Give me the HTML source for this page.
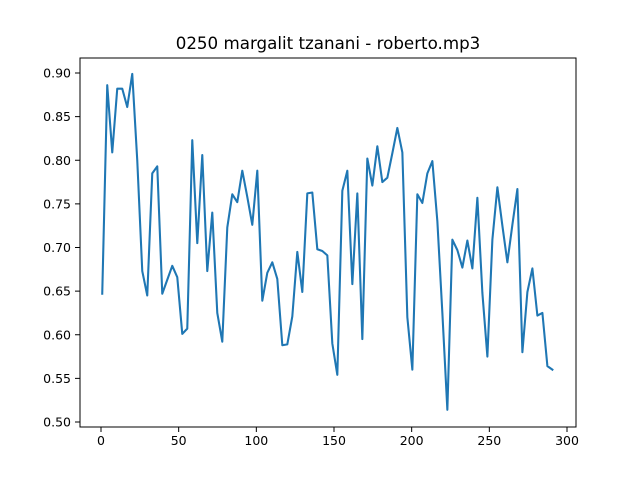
<!DOCTYPE html>
<html><head><meta charset="utf-8"><style>
body{margin:0;background:#fff;}
svg{display:block;font-family:"DejaVu Sans","Liberation Sans",sans-serif;}
</style></head><body>
<svg id="chart" width="640" height="480">
<rect x="0" y="0" width="640" height="480" fill="#fff"/>
<text x="328" y="49" text-anchor="middle" font-size="16.7" fill="#000">0250 margalit tzanani - roberto.mp3</text>
<g id="ticks"></g>
<path id="series" fill="none" stroke="#1f77b4" stroke-width="2.08" stroke-linejoin="round" stroke-linecap="square"/>
<rect x="80" y="58" width="496" height="369" fill="none" stroke="#000" stroke-width="1"/>
</svg>
<script>
const values = [0.647,0.886,0.809,0.882,0.882,0.861,0.899,0.80,0.673,0.645,0.785,0.793,0.647,0.663,0.679,0.666,0.601,0.607,0.823,0.705,0.806,0.673,0.740,0.625,0.592,0.723,0.761,0.752,0.788,0.758,0.726,0.788,
0.639,0.671,0.683,0.664,0.588,0.589,0.621,0.695,0.649,0.762,0.763,0.698,0.696,0.691,0.590,0.554,0.765,0.788,0.658,0.762,0.595,0.802,0.771,0.816,0.775,0.780,0.808,0.837,0.809,0.620,0.560,0.761,
0.751,0.785,0.799,0.730,0.625,0.514,0.709,0.697,0.677,0.708,0.676,0.757,0.648,0.575,0.709,0.769,0.725,0.683,0.726,0.767,0.580,0.649,0.676,0.622,0.625,0.564,0.560];
const xTicks = [0,50,100,150,200,250,300];
const yTicks = [0.50,0.55,0.60,0.65,0.70,0.75,0.80,0.85,0.90];
const xStart = 0.8, xEnd = 290.6;
function sx(v){return 101 + v*(466/300);}
function sy(v){return 422 - (v-0.5)*(349/0.4);}
const NS="http://www.w3.org/2000/svg";
const g=document.getElementById('ticks');
xTicks.forEach(t=>{
  const l=document.createElementNS(NS,'line');
  l.setAttribute('x1',sx(t));l.setAttribute('x2',sx(t));l.setAttribute('y1',427);l.setAttribute('y2',432);l.setAttribute('stroke','#000');
  
  
  g.appendChild(l);
  const tx=document.createElementNS(NS,'text');
  tx.setAttribute('x',sx(t));tx.setAttribute('y',445);tx.setAttribute('text-anchor','middle');tx.setAttribute('font-size','12.5');
  tx.textContent=t;
  
  
  g.appendChild(tx);
});
yTicks.forEach(t=>{
  const l=document.createElementNS(NS,'line');
  l.setAttribute('x1',75);l.setAttribute('x2',80);l.setAttribute('y1',sy(t));l.setAttribute('y2',sy(t));l.setAttribute('stroke','#000');
  
  
  g.appendChild(l);
  const tx=document.createElementNS(NS,'text');
  tx.setAttribute('x',71);tx.setAttribute('y',sy(t)+4.5);tx.setAttribute('text-anchor','end');tx.setAttribute('font-size','12.5');
  tx.textContent=t.toFixed(2);
  
  
  g.appendChild(tx);
});
const n=values.length;
let d='';
values.forEach((v,i)=>{
  const x=xStart+i*(xEnd-xStart)/(n-1);
  d+=(i?'L':'M')+sx(x).toFixed(2)+' '+sy(v).toFixed(2);
});
document.getElementById('series').setAttribute('d',d);
</script>
</body></html>
